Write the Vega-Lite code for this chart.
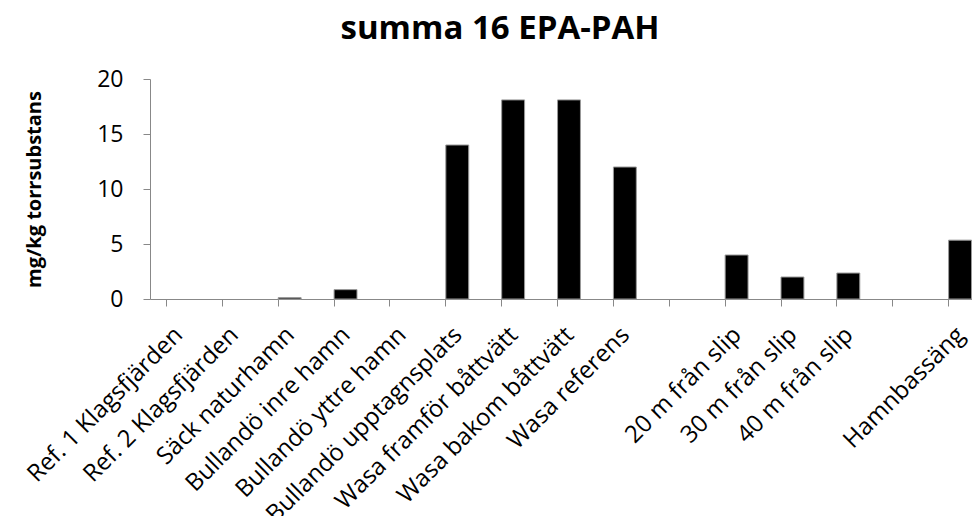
{
  "$schema": "https://vega.github.io/schema/vega-lite/v6.json",
  "autosize": {"type": "none"},
  "padding": {"left": 150, "top": 79, "right": 0, "bottom": 217},
  "width": 838,
  "height": 220,
  "background": "white",
  "title": {
    "text": "summa 16 EPA-PAH",
    "font": "Open Sans",
    "fontSize": 33,
    "fontWeight": "bold",
    "color": "black",
    "anchor": "middle",
    "dx": -69,
    "offset": 22
  },
  "config": {
    "view": {"stroke": null},
    "font": "Open Sans"
  },
  "data": {
    "values": [
      {"plats": "Ref. 1 Klagsfjärden", "pah": null},
      {"plats": "Ref. 2 Klagsfjärden", "pah": null},
      {"plats": "Säck naturhamn", "pah": 0.12},
      {"plats": "Bullandö inre hamn", "pah": 0.85},
      {"plats": "Bullandö yttre hamn", "pah": null},
      {"plats": "Bullandö upptagnsplats", "pah": 14.0},
      {"plats": "Wasa framför  båttvätt", "pah": 18.1},
      {"plats": "Wasa bakom båttvätt", "pah": 18.1},
      {"plats": "Wasa referens", "pah": 12.0},
      {"plats": " ", "pah": null},
      {"plats": "20 m från slip", "pah": 4.0},
      {"plats": "30 m från slip", "pah": 2.0},
      {"plats": "40 m från slip", "pah": 2.36},
      {"plats": "  ", "pah": null},
      {"plats": "Hamnbassäng", "pah": 5.35}
    ]
  },
  "mark": {"type": "bar", "color": "black", "stroke": "#999999", "strokeWidth": 1},
  "encoding": {
    "x": {
      "field": "plats",
      "type": "nominal",
      "sort": null,
      "scale": {
        "domain": ["Ref. 1 Klagsfjärden", "Ref. 2 Klagsfjärden", "Säck naturhamn", "Bullandö inre hamn", "Bullandö yttre hamn", "Bullandö upptagnsplats", "Wasa framför  båttvätt", "Wasa bakom båttvätt", "Wasa referens", " ", "20 m från slip", "30 m från slip", "40 m från slip", "  ", "Hamnbassäng"],
        "paddingInner": 0.59,
        "paddingOuter": 0.295
      },
      "axis": {
        "title": null,
        "bandPosition": 0,
        "labelOffset": 1,
        "labelAngle": -45,
        "labelAlign": "right",
        "labelBaseline": "middle",
        "labelFontSize": 24,
        "labelColor": "black",
        "labelPadding": 25,
        "labelLimit": 400,
        "labelOverlap": false,
        "domainColor": "#888888",
        "tickColor": "#888888",
        "tickSize": 7,
        "grid": false
      }
    },
    "y": {
      "field": "pah",
      "type": "quantitative",
      "scale": {"domain": [0, 20]},
      "axis": {
        "title": "mg/kg torrsubstans",
        "titleFontSize": 20,
        "titleFontWeight": "bold",
        "titleColor": "black",
        "titlePadding": 52,
        "values": [0, 5, 10, 15, 20],
        "labelFontSize": 23,
        "labelColor": "black",
        "labelPadding": 20,
        "domainColor": "#888888",
        "tickColor": "#888888",
        "tickSize": 7,
        "grid": false
      }
    }
  }
}
